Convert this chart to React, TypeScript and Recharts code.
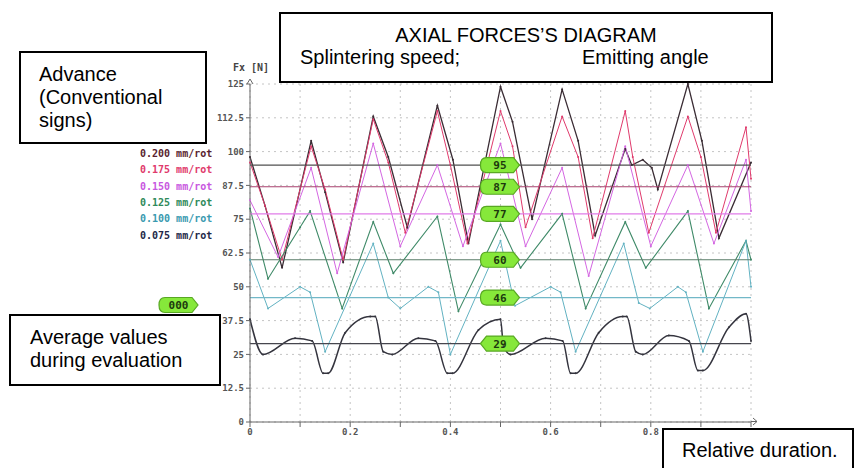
import React from 'react';
import { LineChart, Line, XAxis, YAxis, CartesianGrid, ReferenceLine } from 'recharts';

// axis ticks
const yTicks = [0, 12.5, 25, 37.5, 50, 62.5, 75, 87.5, 100, 112.5, 125];
const xTicks = [0, 0.1, 0.2, 0.3, 0.4, 0.5, 0.6, 0.7, 0.8, 0.9, 1];

// advance (conventional signs)
const advances = ['0.200 mm/rot', '0.175 mm/rot', '0.150 mm/rot', '0.125 mm/rot', '0.100 mm/rot', '0.075 mm/rot'];
const lineColors = ['#3a2c34', '#e03a6c', '#d466e2', '#3f8a68', '#62b2c2', '#34343e'];
const legendColors = ['#5a1f30', '#e03a6c', '#c858e0', '#2f8a5a', '#3a9ab0', '#232848'];
const lineWidths = [1.3, 1, 1, 1.1, 1, 1.5];
const curveTypes = ['linear', 'linear', 'linear', 'linear', 'linear', 'monotone'];

// average values during evaluation
const averages = [95, 87, 77, 60, 46, 29];
const avgColors = ['#505050', '#a8406e', '#e07ce8', '#5a7c68', '#72b8c8', '#46464e'];

// series, relative duration -> Fx [N]
const s200x = [0, 0.03, 0.064, 0.122, 0.15, 0.186, 0.246, 0.276, 0.314, 0.374, 0.405, 0.436, 0.5, 0.524, 0.563, 0.623, 0.655, 0.689, 0.749, 0.762, 0.784, 0.802, 0.814, 0.874, 0.902, 0.936, 1];
const s200y = [98, 80, 57, 104, 85, 59, 113, 98, 72, 117, 97, 66, 124, 111, 75, 123, 104, 69, 101, 95, 97, 94, 86, 125, 104, 68, 96];

const s175x = [0, 0.03, 0.064, 0.122, 0.15, 0.186, 0.246, 0.276, 0.31, 0.374, 0.4, 0.434, 0.5, 0.524, 0.55, 0.623, 0.655, 0.684, 0.749, 0.764, 0.796, 0.874, 0.9, 0.93, 0.99, 1];
const s175y = [96, 80, 60, 102, 86, 60, 112, 96, 70, 115, 95, 66, 115, 102, 72, 113, 98, 68, 115, 98, 70, 113, 98, 70, 109, 90];

const s150x = [0, 0.056, 0.122, 0.174, 0.246, 0.3, 0.374, 0.425, 0.5, 0.55, 0.623, 0.676, 0.749, 0.8, 0.874, 0.926, 0.99, 1];
const s150y = [82, 61, 94, 55, 103, 65, 95, 65, 103, 65, 94, 54, 102, 65, 95, 66, 97, 78];

const s125x = [0, 0.036, 0.1, 0.12, 0.184, 0.246, 0.286, 0.374, 0.416, 0.5, 0.54, 0.623, 0.67, 0.749, 0.79, 0.874, 0.916, 0.99, 1];
const s125y = [79, 53, 72, 78, 42, 74, 55, 76, 41, 73, 57, 77, 42, 74, 57, 78, 42, 67, 60];

const s100x = [0, 0.036, 0.1, 0.12, 0.15, 0.246, 0.276, 0.3, 0.356, 0.376, 0.4, 0.5, 0.529, 0.6, 0.62, 0.65, 0.746, 0.776, 0.798, 0.854, 0.87, 0.904, 0.99, 1];
const s100y = [60, 42, 50, 48, 26, 66, 46, 42, 50, 48, 25, 67, 43, 50, 48, 26, 66, 44, 42, 50, 48, 26, 67, 50];

const s075x = [0, 0.026, 0.09, 0.124, 0.146, 0.156, 0.19, 0.24, 0.25, 0.266, 0.284, 0.336, 0.37, 0.394, 0.404, 0.456, 0.5, 0.506, 0.52, 0.59, 0.624, 0.64, 0.65, 0.696, 0.744, 0.752, 0.77, 0.784, 0.836, 0.876, 0.894, 0.904, 0.956, 0.99, 1];
const s075y = [38, 25, 31, 30, 18, 18, 33, 39, 39, 26, 25, 31, 30, 18, 18, 34, 38, 28, 25, 31, 30, 18, 18, 33, 39, 39, 26, 25, 32, 30, 19, 19, 35, 40, 30];

const seriesX = [s200x, s175x, s150x, s125x, s100x, s075x];
const seriesY = [s200y, s175y, s150y, s125y, s100y, s075y];

const mono = '"DejaVu Sans Mono", monospace';
const arial = 'Arial, "Liberation Sans", sans-serif';

const badgePath = (x: number, y: number, w: number, h: number, pointedLeft: boolean) => {
  const r = h / 2;
  const left = pointedLeft
    ? `L ${x + 6} ${y + r} L ${x} ${y} L ${x + 6} ${y - r}`
    : `L ${x + 6} ${y + r} Q ${x} ${y + r} ${x} ${y} Q ${x} ${y - r} ${x + 6} ${y - r}`;
  return `M ${x + 6} ${y - r} L ${x + w - 6} ${y - r} L ${x + w} ${y} L ${x + w - 6} ${y + r} ${left} Z`;
};

const Badge = ({ x, y, text, pointedLeft }: { x: number; y: number; text: string; pointedLeft: boolean }) => (
  <g>
    <path d={badgePath(x, y, 39, 15, pointedLeft)} fill="#86e83a" stroke="#58a823" strokeWidth={1.2} />
    <text x={x + 19.5} y={y + 4} textAnchor="middle" fontFamily={mono} fontWeight="bold" fontSize={11} fill="#1d3a0e">
      {text}
    </text>
  </g>
);

const AvgLabel = (props: any) => {
  const vb = props.viewBox || {};
  const x = vb.x + vb.width * 0.46;
  return <Badge x={x} y={vb.y} text={String(props.value)} pointedLeft={props.value === 29} />;
};

const boxStyle: React.CSSProperties = {
  position: 'absolute',
  border: '2px solid #000',
  background: '#fff',
  boxSizing: 'border-box',
  fontFamily: arial,
  fontSize: 20,
  lineHeight: '23px',
  color: '#000',
};

export default function App() {
  return (
    <div style={{ position: 'fixed', left: 0, top: 0, width: 861, height: 468, overflow: 'hidden', background: '#fff' }}>
      <LineChart width={861} height={468} margin={{ top: 84, right: 110, left: 210, bottom: 16 }}>
        <CartesianGrid strokeDasharray="2 4" stroke="#c4c4c4" />
        <XAxis
          type="number"
          dataKey="x"
          domain={[0, 1]}
          ticks={xTicks}
          height={30}
          allowDuplicatedCategory={false}
          tickFormatter={(v: number, i: number) => (i % 2 === 0 && v < 1 ? (v === 0 ? '0' : v.toFixed(1)) : '')}
          tick={{ fontFamily: mono, fontSize: 9, fontWeight: 'bold', fill: '#555' }}
          stroke="#666"
          tickSize={5}
        />
        <YAxis
          type="number"
          domain={[0, 125]}
          ticks={yTicks}
          width={40}
          tick={{ fontFamily: mono, fontSize: 9, fontWeight: 'bold', fill: '#555' }}
          stroke="#666"
          tickSize={4}
        />
        {advances.map((name, i) => (
          <Line
            key={name}
            name={name}
            data={seriesX[i].map((x, j) => ({ x, y: seriesY[i][j] }))}
            dataKey="y"
            type={curveTypes[i] as any}
            stroke={lineColors[i]}
            strokeWidth={lineWidths[i]}
            dot={{ r: 1, strokeWidth: 0, fill: lineColors[i] }}
            isAnimationActive={false}
          />
        ))}
        {averages.map((v, i) => (
          <ReferenceLine key={v} y={v} stroke={avgColors[i]} strokeWidth={1.2} label={<AvgLabel value={v} />} />
        ))}
      </LineChart>

      {/* axis arrows and the spare badge */}
      <svg width={861} height={468} style={{ position: 'absolute', left: 0, top: 0, pointerEvents: 'none' }}>
        <path d="M 247 84 L 250 79 L 253 84" fill="none" stroke="#666" strokeWidth={1} />
        <path d="M 751 421.5 L 757 421.5 M 753 418 L 757 421.5 L 753 425" fill="none" stroke="#666" strokeWidth={1} />
        <Badge x={159} y={305} text="000" pointedLeft={false} />
      </svg>

      <div style={{ position: 'absolute', left: 233, top: 62, fontFamily: mono, fontWeight: 'bold', fontSize: 10, color: '#444' }}>
        Fx [N]
      </div>

      {advances.map((name, i) => (
        <div
          key={name}
          style={{
            position: 'absolute',
            left: 140,
            top: 148 + i * 16.3,
            fontFamily: mono,
            fontWeight: 'bold',
            fontSize: 10,
            color: legendColors[i],
            whiteSpace: 'nowrap',
          }}
        >
          {name}
        </div>
      ))}

      <div style={{ ...boxStyle, left: 279, top: 12, width: 494, height: 71 }}>
        <span style={{ position: 'absolute', left: 0, right: 0, top: 10, textAlign: 'center', lineHeight: '22px' }}>
          AXIAL FORCES’S DIAGRAM
        </span>
        <span style={{ position: 'absolute', left: 19, top: 32, lineHeight: '22px' }}>Splintering speed;</span>
        <span style={{ position: 'absolute', left: 301, top: 32, lineHeight: '22px' }}>Emitting angle</span>
      </div>

      <div style={{ ...boxStyle, left: 19, top: 51, width: 188, height: 93, paddingTop: 10, paddingLeft: 18 }}>
        Advance
        <br />
        (Conventional
        <br />
        signs)
      </div>

      <div style={{ ...boxStyle, left: 9, top: 314, width: 212, height: 72, paddingTop: 10, paddingLeft: 19 }}>
        Average values
        <br />
        during evaluation
      </div>

      <div style={{ ...boxStyle, left: 662, top: 428, width: 192, height: 60, paddingTop: 9, paddingLeft: 18 }}>
        Relative duration.
      </div>
    </div>
  );
}
